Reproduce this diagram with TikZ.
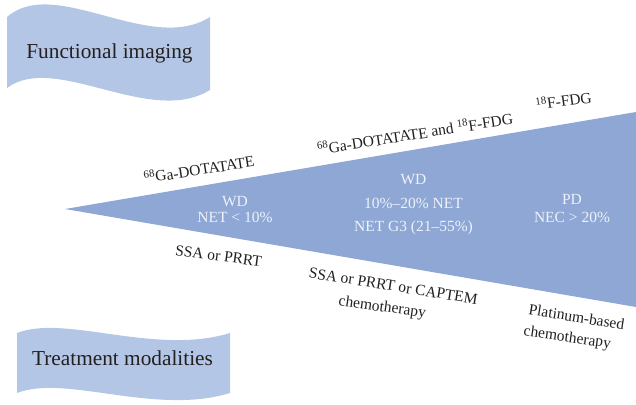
\documentclass[tikz,border=0pt]{standalone}
\usepackage{fontspec}
\setmainfont{Liberation Serif}
\definecolor{tri}{HTML}{8EA7D4}
\definecolor{ban}{HTML}{B4C6E5}
\definecolor{ink}{HTML}{231F20}
\definecolor{lite}{HTML}{EEF2FA}
\tikzset{
  bantext/.style={text=ink, font=\fontsize{21.3}{24}\selectfont, inner sep=0pt, anchor=base},
  tritext/.style={text=lite, font=\fontsize{15.5}{18}\selectfont, inner sep=0pt, anchor=base},
  lbl/.style={text=ink, font=\fontsize{15.5}{18}\selectfont, inner sep=0pt, anchor=base},
}
\begin{document}
\begin{tikzpicture}[x=1pt,y=-1pt]
\useasboundingbox (0,0) rectangle (636,404);
\clip (0,0) rectangle (636,404);
% banners
\fill[ban] (7,17) .. controls (55,-25) and (150,55) .. (210,17)
  -- (210,90) .. controls (150,127) and (55,52) .. (7,88) -- cycle;
\fill[ban] (17,333) .. controls (65,314) and (155,356) .. (230,333)
  -- (230,393) .. controls (155,416) and (65,374) .. (17,393) -- cycle;
\node[bantext] (fi) at (109.5,58) {Functional imaging};
\node[bantext] (tm) at (122.5,365) {Treatment modalities};
% triangle
\fill[tri] (65,209) -- (636,112) -- (636,307) -- cycle;
\node[tritext] (wd1) at (235,206) {WD};
\node[tritext] (n1) at (235,222) {NET < 10\%};
\node[tritext] (wd2) at (413.5,184) {WD};
\node[tritext] (n2) at (413.5,208) {10\%–20\% NET};
\node[tritext] (n3) at (413.5,231) {NET G3 (21–55\%)};
\node[tritext] (pd) at (572,204) {PD};
\node[tritext] (nec) at (572,222) {NEC > 20\%};
% imaging labels
\node[lbl, rotate=8.8] (im1) at (200,175) {\textsuperscript{68}Ga-DOTATATE};
\node[lbl, rotate=9] (im2) at (416,139.5) {\textsuperscript{68}Ga-DOTATATE and \textsuperscript{18}F-FDG};
\node[lbl, rotate=8] (im3) at (564.5,106.5) {\textsuperscript{18}F-FDG};
% treatment labels
\node[lbl, rotate=-7.5] (t1) at (218,261) {SSA or PRRT};
\node[lbl, rotate=-9] (t2) at (392.5,291) {SSA or PRRT or CAPTEM};
\node[lbl, rotate=-8] (t3) at (381.7,311.5) {chemotherapy};
\node[lbl, rotate=-9] (t4) at (575.8,322) {Platinum-based};
\node[lbl, rotate=-8] (t5) at (566.7,342) {chemotherapy};
\end{tikzpicture}
\end{document}
